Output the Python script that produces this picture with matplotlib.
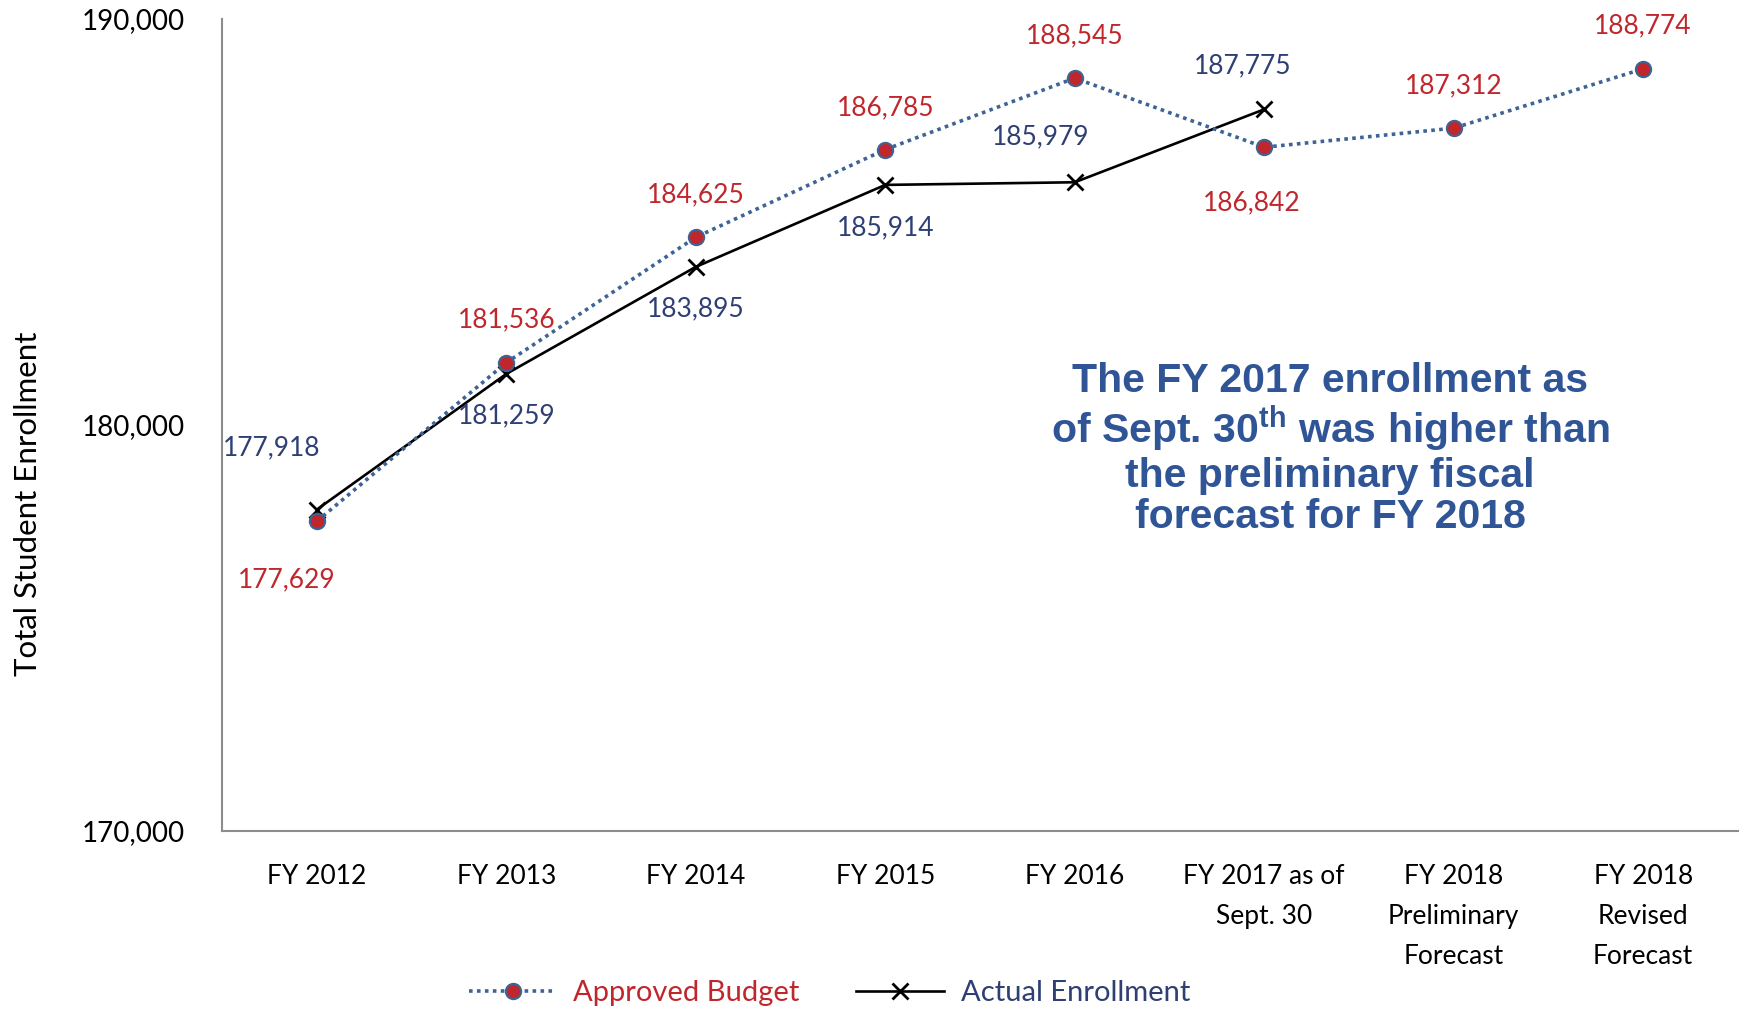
import matplotlib
matplotlib.use("Agg")
import matplotlib.pyplot as plt
from matplotlib.ticker import FuncFormatter

plt.rcParams["font.family"] = ["Lato", "DejaVu Sans"]
plt.rcParams["mathtext.fontset"] = "custom"
plt.rcParams["mathtext.rm"] = "Liberation Sans:bold"
plt.rcParams["mathtext.bf"] = "Liberation Sans:bold"

# ---- data -----------------------------------------------------------------
categories = ["FY 2012", "FY 2013", "FY 2014", "FY 2015", "FY 2016",
              "FY 2017 as of\nSept. 30", "FY 2018\nPreliminary\nForecast",
              "FY 2018\nRevised\nForecast"]
budget = [177629, 181536, 184625, 186785, 188545, 186842, 187312, 188774]
actual = [177918, 181259, 183895, 185914, 185979, 187775]

# label offsets (pixels) from each point
budget_off = [(-30, -59), (0, 43), (0, 42), (0, 42), (0, 42), (-12, -56), (0, 42), (0, 43)]
actual_off = [(-45, 62), (0, -42), (0, -42), (0, -43), (-34, 45), (-22, 44)]

RED = "#C0272D"
NAVY = "#2E3F73"
DOTBLUE = "#3E6396"

fig = plt.figure(figsize=(17.5, 10.11), dpi=100)
ax = fig.add_axes([0.1269, 0.178, 0.8662, 0.8032])

xb = range(len(budget))
xa = range(len(actual))
ax.plot(xb, budget, ls=(0, (1, 1.2)), color=DOTBLUE, lw=2.6, marker="o",
        ms=11, mfc=RED, mec=DOTBLUE, mew=1.5, label="Approved Budget", zorder=3)
ax.plot(xa, actual, "-", color="black", lw=1.9, marker="x", ms=11, mew=2,
        label="Actual Enrollment", zorder=2)

for x, v, off in zip(xb, budget, budget_off):
    ax.annotate(f"{v:,}", (x, v), xytext=off, textcoords="offset pixels",
                ha="center", va="center", color=RED, fontsize=19)
for x, v, off in zip(xa, actual, actual_off):
    ax.annotate(f"{v:,}", (x, v), xytext=off, textcoords="offset pixels",
                ha="center", va="center", color=NAVY, fontsize=19)

ax.set_xlim(-0.5, 7.5)
ax.set_ylim(170000, 190000)
ax.set_yticks([170000, 180000, 190000])
ax.yaxis.set_major_formatter(FuncFormatter(lambda v, p: f"{int(v):,}"))
ax.set_xticks(list(xb))
ax.set_xticklabels(categories, fontsize=19, linespacing=1.75, va="top")
ax.tick_params(axis="y", length=0, pad=27, labelsize=20)
ax.tick_params(axis="x", length=0, pad=24)
for s in ["top", "right"]:
    ax.spines[s].set_visible(False)
for s in ["left", "bottom"]:
    ax.spines[s].set_color("#8C8C8C")
    ax.spines[s].set_linewidth(1.5)

ax.set_ylabel("Total Student Enrollment", fontsize=22.5)
ax.yaxis.set_label_coords(-0.119, 0.4025)

fig.text(0.76, 0.556,
         "The FY 2017 enrollment as\nof Sept. 30$^{\\mathrm{th}}$ was higher than\n"
         "the preliminary fiscal\nforecast for FY 2018",
         ha="center", va="center", fontsize=29.5, fontweight="bold",
         family="Liberation Sans", color="#2F5597", linespacing=1.1)

leg = fig.legend(loc="center", bbox_to_anchor=(0.474, 0.018), ncol=2,
                 frameon=False, fontsize=21, handlelength=3.0, columnspacing=1.95,
                 handletextpad=0.58)
for t, c in zip(leg.get_texts(), [RED, NAVY]):
    t.set_color(c)

fig.savefig("out.png", dpi=100)
